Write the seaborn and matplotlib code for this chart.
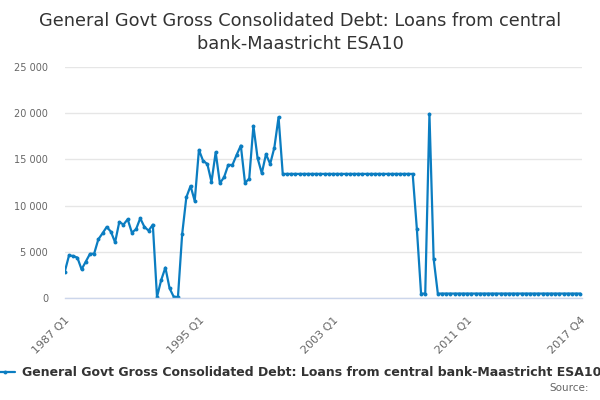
import numpy as np
import pandas as pd
import matplotlib
matplotlib.use("Agg")
import matplotlib.pyplot as plt
import seaborn as sns
from matplotlib.ticker import FuncFormatter

sns.set_theme(style="white")
plt.rcParams['font.family'] = ['DejaVu Sans']

series_name = "General Govt Gross Consolidated Debt: Loans from central bank-Maastricht ESA10"

years = list(range(1987, 2018))
quarters = ["Q1", "Q2", "Q3", "Q4"]
periods = [f"{y} {q}" for y in years for q in quarters]

values = [
    2850, 4600, 4550, 4370, 3100, 3930, 4770, 4800,        # 1987-1988
    6350, 7000, 7690, 7180, 6030, 8230, 7940, 8520,        # 1989-1990
    7080, 7440, 8630, 7690, 7290, 7940, 120, 1950,         # 1991-1992
    3290, 1050, 120, 120, 6900, 10900, 12130, 10500,       # 1993-1994
    16030, 14840, 14510, 12560, 15780, 12420, 13070, 14400,  # 1995-1996
    14400, 15490, 16500, 12450, 12920, 18630, 15130, 13500,  # 1997-1998
    15560, 14510, 16280, 19570, 13430, 13430, 13430, 13430,  # 1999-2000
    13430, 13430, 13430, 13430, 13430, 13430, 13430, 13430,  # 2001-2002
    13430, 13430, 13430, 13430, 13430, 13430, 13430, 13430,  # 2003-2004
    13430, 13430, 13430, 13430, 13430, 13430, 13430, 13430,  # 2005-2006
    13430, 13430, 13430, 13430, 7470, 480, 480, 19930,       # 2007-2008
    4260, 480, 480, 480, 480, 480, 480, 480,                 # 2009-2010
    480, 480, 480, 480, 480, 480, 480, 480,                  # 2011-2012
    480, 480, 480, 480, 480, 480, 480, 480,                  # 2013-2014
    480, 480, 480, 480, 480, 480, 480, 480,                  # 2015-2016
    480, 480, 480, 480,                                      # 2017
]

label_periods = ["1987 Q1", "1995 Q1", "2003 Q1", "2011 Q1", "2017 Q4"]

df = pd.DataFrame({"period": periods, "value": values})
df["idx"] = np.arange(len(df))

line_color = "#0b7dc1"
fig = plt.figure(figsize=(6, 4), dpi=100)
ax = fig.add_axes([0.108, 0.255, 0.862, 0.5775])

sns.lineplot(data=df, x="idx", y="value", ax=ax, color=line_color, linewidth=1.6,
             marker="o", markersize=2.8, markeredgewidth=0, label=series_name)

ax.set_ylim(0, 25000)
ax.set_xlim(0, 123.4)
ax.set_yticks([0, 5000, 10000, 15000, 20000, 25000])
ax.yaxis.set_major_formatter(FuncFormatter(lambda v, p: f"{int(v):,}".replace(",", " ")))
ax.grid(axis="y", color="#e6e6e6", linewidth=1)
ax.set_axisbelow(True)

tick_pos = list(range(0, 113, 8)) + [123]
ax.set_xticks(tick_pos, minor=True)
lab_pos = [periods.index(p) for p in label_periods]
ax.set_xticks(lab_pos)
ax.set_xticklabels(label_periods, rotation=45, ha="right", rotation_mode="anchor")
ax.tick_params(axis="x", which="both", length=9, width=1, color="#ccd6eb",
               direction="out", labelsize=8, labelcolor="#666666", pad=3)
ax.tick_params(axis="y", length=0, labelsize=7, labelcolor="#666666", pad=12)
ax.set_xlabel("")
ax.set_ylabel("")

for s in ["top", "right", "left"]:
    ax.spines[s].set_visible(False)
ax.spines["bottom"].set_color("#ccd6eb")
ax.spines["bottom"].set_linewidth(1)

ax.get_legend().remove()
handles, labels = ax.get_legend_handles_labels()
leg = fig.legend(handles, labels, loc="center", bbox_to_anchor=(0.497, 0.068),
                 frameon=False, handlelength=1.6, handletextpad=0.5,
                 prop={"size": 9.0, "weight": "bold"})
for t in leg.get_texts():
    t.set_color("#333333")

fig.suptitle("General Govt Gross Consolidated Debt: Loans from central\nbank-Maastricht ESA10",
             y=0.97, fontsize=12.8, color="#333333", linespacing=1.35)
fig.text(0.982, 0.018, "Source:", ha="right", va="bottom", fontsize=7.5, color="#666666")

fig.savefig("out.png", dpi=100)
